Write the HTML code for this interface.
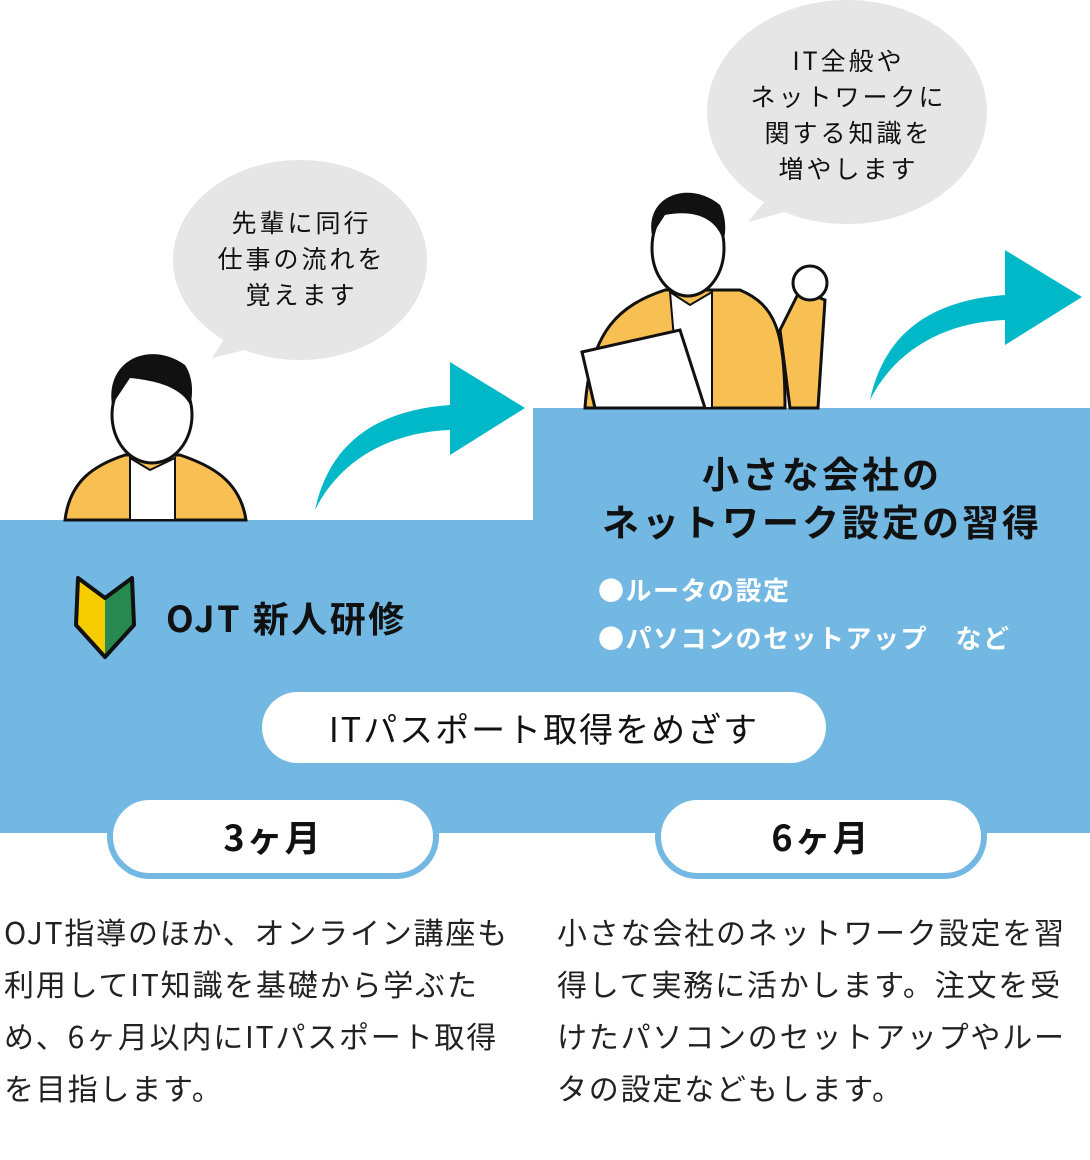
<!DOCTYPE html>
<html><head><meta charset="utf-8"><style>
body{margin:0;width:1090px;height:1160px;background:#fff;position:relative;overflow:hidden;font-family:"Noto Sans CJK JP","Liberation Sans",sans-serif;color:#111}
.a{position:absolute;white-space:nowrap}
.pill{position:absolute;background:#fff;border-radius:45px;text-align:center;font-weight:bold}
</style></head><body>
<svg class="a" style="left:0;top:0" width="1090" height="1160">
<ellipse cx="300" cy="260" rx="127" ry="100" fill="#e6e6e6"/>
<polygon points="230,330 212,358 265,345" fill="#e6e6e6"/>
<ellipse cx="847" cy="112" rx="140" ry="112" fill="#e6e6e6"/>
<polygon points="770,195 748,222 810,205" fill="#e6e6e6"/>
<rect x="0" y="520" width="534" height="313" fill="#72b8e2"/>
<rect x="533" y="408" width="557" height="425" fill="#72b8e2"/>
<path d="M315,510 C330,440 380,410 450,405 L450,362 L525,408 L450,455 L450,430 C390,432 340,460 315,510Z" fill="#00b8c8"/>
<path d="M870,400 C885,330 935,300 1005,295 L1005,250 L1082,297 L1005,345 L1005,320 C945,322 895,350 870,400Z" fill="#00b8c8"/>
<path d="M65,520 C70,480 95,465 125,455 L180,455 C210,465 240,480 246,520Z" fill="#f8bf53" stroke="#111" stroke-width="3"/>
<path d="M130,458 L150,470 L175,458 L175,520 L130,520Z" fill="#fff" stroke="#111" stroke-width="2"/>
<ellipse cx="152" cy="415" rx="40" ry="48" fill="#fff" stroke="#111" stroke-width="3"/>
<path d="M112,405 C105,360 150,340 185,365 C195,380 192,400 190,405 C180,385 150,380 130,378 Z" fill="#111"/>
<path d="M585,408 C590,330 620,305 665,290 L740,290 C775,305 785,330 785,408Z" fill="#f8bf53" stroke="#111" stroke-width="3"/>
<path d="M780,330 L800,290 L825,300 L818,408 L790,408Z" fill="#f8bf53" stroke="#111" stroke-width="3"/>
<ellipse cx="810" cy="283" rx="17" ry="17" fill="#fff" stroke="#111" stroke-width="3"/>
<path d="M670,292 L690,305 L712,292 L712,408 L690,408 L680,408Z" fill="#fff" stroke="#111" stroke-width="2"/>
<polygon points="582,352 680,330 705,408 595,408" fill="#fff" stroke="#111" stroke-width="3"/>
<ellipse cx="688" cy="248" rx="36" ry="48" fill="#fff" stroke="#111" stroke-width="3"/>
<path d="M652,235 C645,195 690,180 720,205 C728,220 725,240 723,240 C715,215 690,210 665,215Z" fill="#111"/>
<path d="M78,578 L105,598 L132,578 L134,625 L105,657 L76,625Z" fill="#f5cc00"/>
<path d="M105,598 L132,578 L134,625 L105,657Z" fill="#27894f"/>
<path d="M78,578 L105,598 L132,578 L134,625 L105,657 L76,625Z" fill="none" stroke="#111" stroke-width="4" stroke-linejoin="round"/>
</svg>
<div class="a" style="left:180px;top:204px;width:243px;text-align:center;font-size:25px;line-height:36px;letter-spacing:3px">先輩に同行<br>仕事の流れを<br>覚えます</div>
<div class="a" style="left:717px;top:42px;width:263px;text-align:center;font-size:25px;line-height:36px;letter-spacing:3px">IT全般や<br>ネットワークに<br>関する知識を<br>増やします</div>
<div class="a" style="left:166px;top:591px;font-size:36px;font-weight:bold;line-height:52px;letter-spacing:2.5px">OJT 新人研修</div>
<div class="a" style="left:533px;top:448px;width:578px;text-align:center;font-size:37px;font-weight:bold;line-height:48px;letter-spacing:3px">小さな会社の<br>ネットワーク設定の習得</div>
<div class="a" style="left:598px;top:566px;font-size:26px;font-weight:bold;color:#fff;line-height:48px;letter-spacing:1.5px">●ルータの設定<br>●パソコンのセットアップ　など</div>
<div class="pill" style="left:262px;top:692px;width:564px;height:71px;line-height:71px;font-size:34px;font-weight:normal;border-radius:36px;letter-spacing:2px">ITパスポート取得をめざす</div>
<div class="pill" style="left:107px;top:794px;width:320px;height:73px;border:6px solid #72b8e2;line-height:73px;font-size:36px;letter-spacing:2px">3ヶ月</div>
<div class="pill" style="left:655px;top:794px;width:320px;height:73px;border:6px solid #72b8e2;line-height:73px;font-size:36px;letter-spacing:2px">6ヶ月</div>
<div class="a" style="left:4px;top:905px;font-size:30px;line-height:52px;color:#222;letter-spacing:1.8px">OJT指導のほか、オンライン講座も<br>利用してIT知識を基礎から学ぶた<br>め、6ヶ月以内にITパスポート取得<br>を目指します。</div>
<div class="a" style="left:557px;top:905px;font-size:30px;line-height:52px;color:#222;letter-spacing:1.8px">小さな会社のネットワーク設定を習<br>得して実務に活かします。注文を受<br>けたパソコンのセットアップやルー<br>タの設定などもします。</div>
</body></html>
